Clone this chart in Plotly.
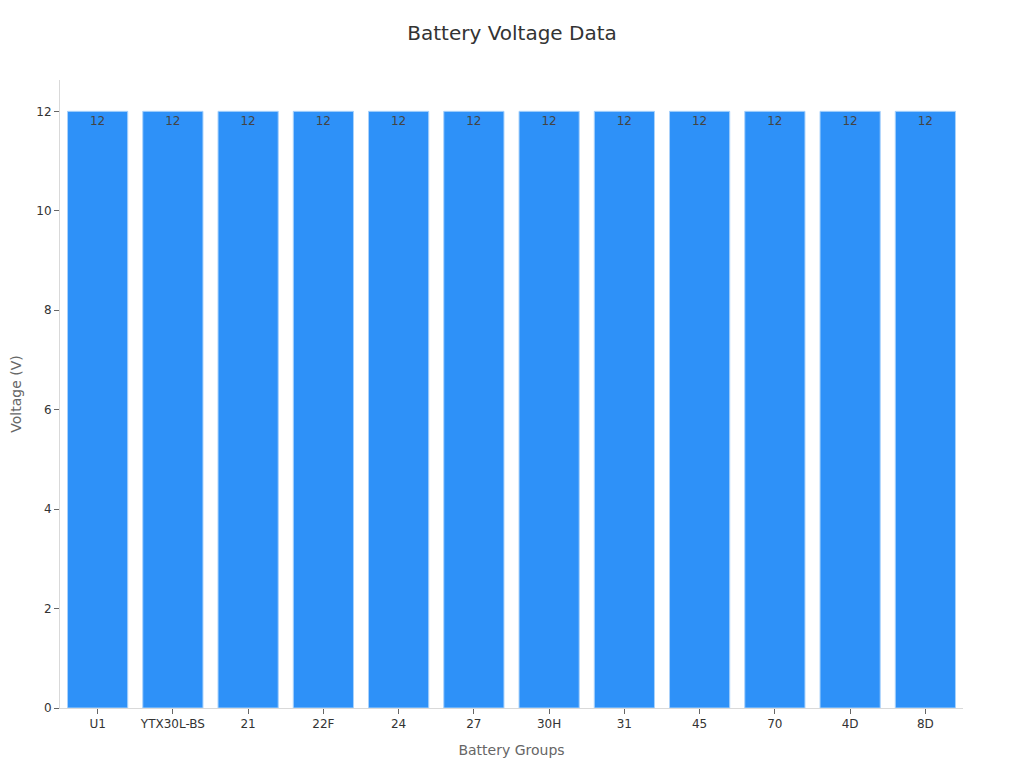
import plotly.graph_objects as go

groups = ["U1", "YTX30L-BS", "21", "22F", "24", "27", "30H", "31", "45", "70", "4D", "8D"]
voltage = [12, 12, 12, 12, 12, 12, 12, 12, 12, 12, 12, 12]

fig = go.Figure()
fig.add_trace(
    go.Bar(
        x=groups,
        y=voltage,
        text=voltage,
        textposition="inside",
        insidetextanchor="end",
        textfont=dict(color="#444444", size=12),
        marker=dict(color="#2E91F8", line=dict(color="#A9D2FB", width=1)),
        hoverinfo="x+y",
    )
)
# page body adds an 8px offset, margins compensate for it
fig.update_layout(
    width=1024,
    height=768,
    template="plotly_white",
    font=dict(family="DejaVu Sans", size=12, color="#333333"),
    title=dict(text="Battery Voltage Data", x=0.4922, y=0.9674, xanchor="center",
               yanchor="middle", font=dict(size=20, color="#333333")),
    margin=dict(l=52, r=69, t=72, b=68),
    bargap=0.2,
    showlegend=False,
    plot_bgcolor="white",
)
fig.update_xaxes(
    title=dict(text="Battery Groups", font=dict(size=14, color="#666666"), standoff=14),
    showline=True, linecolor="#D9D9D9", showgrid=False,
    ticks="outside", ticklen=5, tickcolor="#666666",
)
fig.update_yaxes(
    title=dict(text="Voltage (V)", font=dict(size=14, color="#666666")),
    range=[0, 12.63], dtick=2, automargin=False,
    showline=True, linecolor="#D9D9D9", showgrid=False, zeroline=False,
    ticks="outside", ticklen=5, tickcolor="#666666",
)
fig.write_html("out.html")
